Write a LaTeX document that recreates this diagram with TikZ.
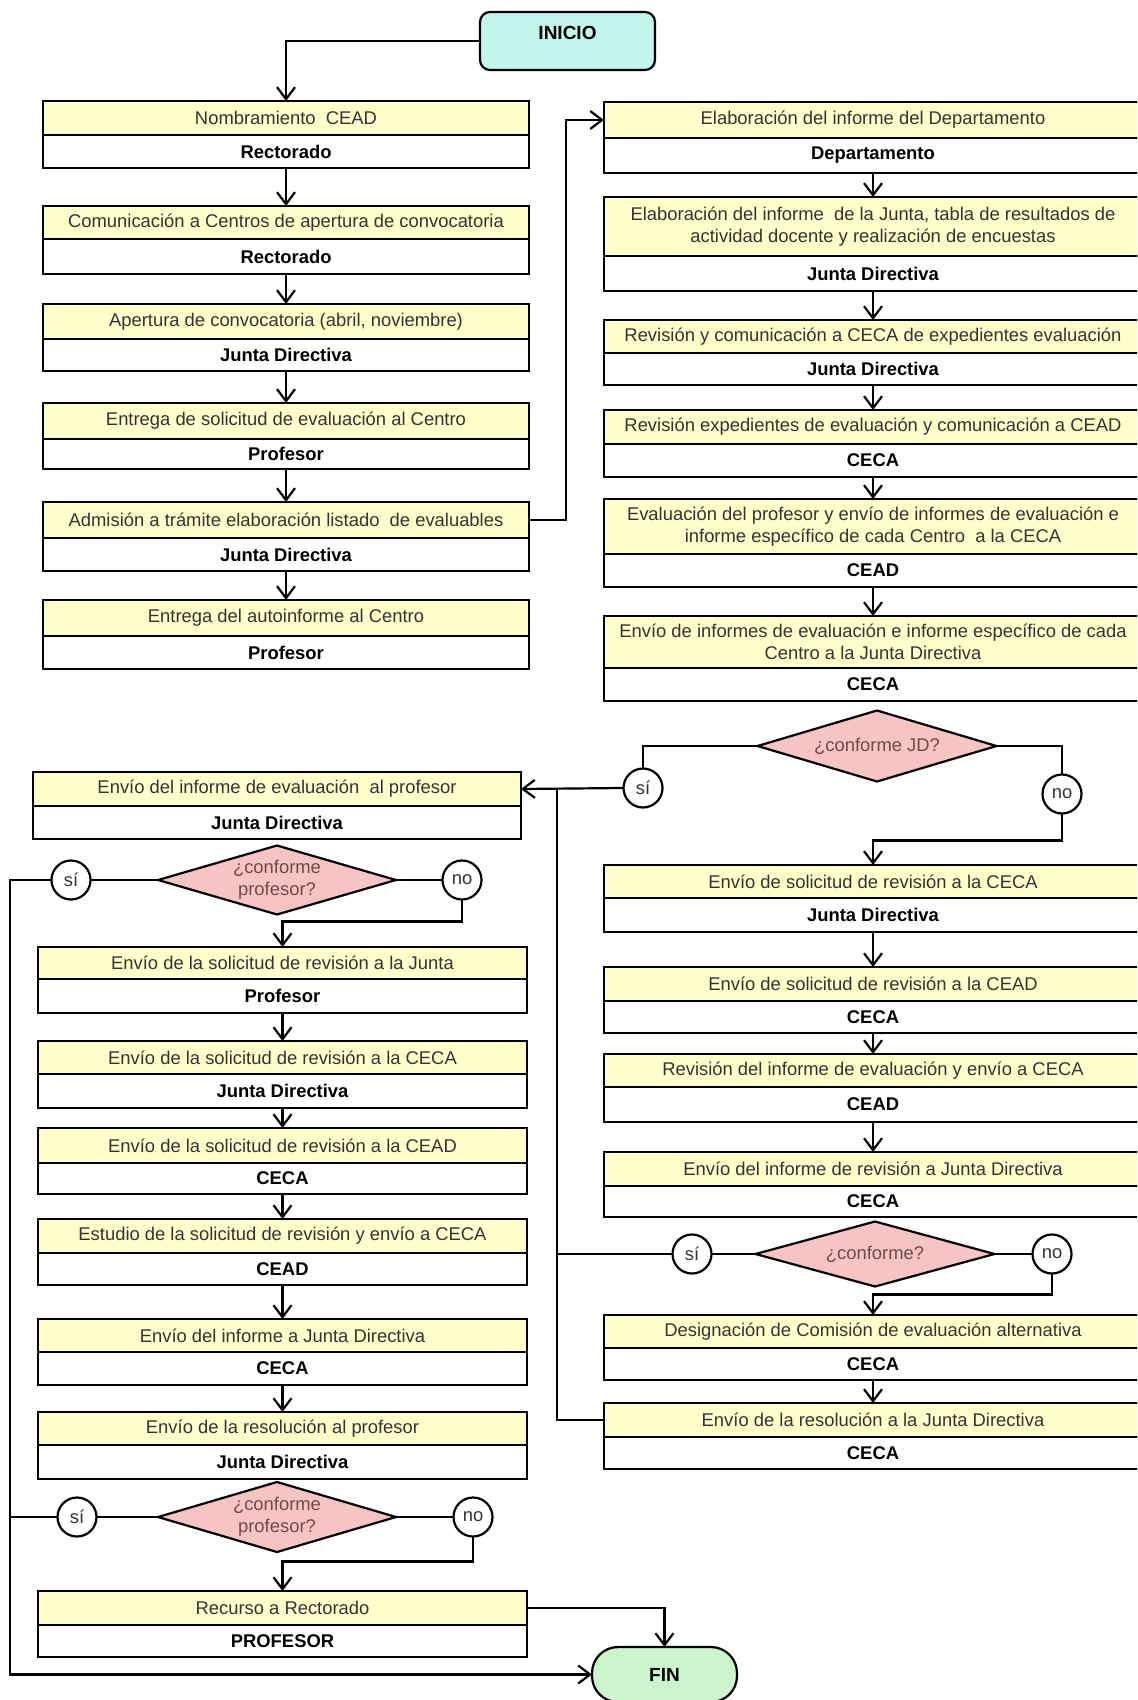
\documentclass[tikz,border=0pt]{standalone}
\usepackage{fontspec}
\setmainfont{Liberation Sans}
\usepackage{xcolor}
\usetikzlibrary{arrows.meta, shapes.geometric}

\definecolor{amarillo}{HTML}{FFFFCC}
\definecolor{turquesa}{HTML}{C4F5EC}
\definecolor{verdefin}{HTML}{CCF5CC}
\definecolor{rosa}{HTML}{F7C4C4}
\definecolor{gristexto}{HTML}{333333}
\definecolor{textorosa}{HTML}{6E4B4B}

% Caja de tarea: franja amarilla (tarea) + franja blanca (responsable)
% #1 nombre, #2 x izq, #3 x der, #4 y sup, #5 y division, #6 y inf
\newcommand{\caja}[8]{%
  \node[tarea, minimum width={(#3-#2)*0.5pt}, minimum height={(#5-#4)*0.5pt}]
    (#1-tarea) at ({(#2+#3)/2},{(#4+#5)/2}) {#7};
  \node[resp, minimum width={(#3-#2)*0.5pt}, minimum height={(#6-#5)*0.5pt}]
    (#1-resp) at ({(#2+#3)/2},{(#5+#6)/2}) {#8};
}

\begin{document}
\begin{tikzpicture}[x=0.5pt, y=-0.5pt, line width=1.1pt,
    >={Straight Barb[length=6pt, width=9pt]},
    every node/.style={font=\fontsize{9.2}{11}\selectfont},
    tarea/.style={draw, fill=amarillo, text=gristexto, align=center, inner sep=0pt, outer sep=0pt},
    resp/.style={draw, fill=white, font=\fontsize{9.2}{11}\selectfont\bfseries, inner sep=0pt, outer sep=0pt},
    decision/.style={diamond, draw, fill=rosa, text=textorosa, align=center, aspect=3.4, inner sep=0pt, outer sep=0pt},
    respuesta/.style={circle, draw, fill=white, text=gristexto, minimum size=19.5pt, inner sep=0pt, outer sep=0pt},
    terminal/.style={draw, font=\fontsize{9.5}{11}\selectfont\bfseries, inner sep=0pt, outer sep=0pt}]

    % =================================================================
    % 0. MARCO DE LA FIGURA
    % =================================================================
    \useasboundingbox (0,0) rectangle (1137,1700);
    \clip (0,0) rectangle (1137,1700);

    % =================================================================
    % 1. INICIO Y FIN
    % =================================================================
    \node[terminal, fill=turquesa, rounded corners=5pt, minimum width=87.5pt, minimum height=29pt, text depth=8pt] (inicio) at (567.5,41) {INICIO};
    \node[terminal, fill=verdefin, rounded corners=13pt, minimum width=72.5pt, minimum height=27.5pt] (fin) at (664.5,1674.5) {FIN};

    % =================================================================
    % 2. COLUMNA IZQUIERDA SUPERIOR
    % =================================================================
    \caja{b1}{43}{529}{101}{135}{168}{Nombramiento\ \ CEAD}{Rectorado}
    \caja{b2}{43}{529}{206}{239}{274}{Comunicación a Centros de apertura de convocatoria}{Rectorado}
    \caja{b3}{43}{529}{304}{339}{371}{Apertura de convocatoria (abril, noviembre)}{Junta Directiva}
    \caja{b4}{43}{529}{403}{439}{469}{Entrega de solicitud de evaluación al Centro}{Profesor}
    \caja{b5}{43}{529}{502}{538}{571}{Admisión a trámite elaboración listado\ \ de evaluables}{Junta Directiva}
    \caja{b6}{43}{529}{600}{636}{669}{Entrega del autoinforme al Centro}{Profesor}

    % =================================================================
    % 3. COLUMNA DERECHA
    % =================================================================
    \caja{r1}{604}{1142}{102}{138}{173}{Elaboración del informe del Departamento}{Departamento}
    \caja{r2}{604}{1142}{197}{256}{291}{Elaboración del informe\ \ de la Junta, tabla de resultados de\\actividad docente y realización de encuestas}{Junta Directiva}
    \caja{r3}{604}{1142}{320}{353}{385}{Revisión y comunicación a CECA de expedientes evaluación}{Junta Directiva}
    \caja{r4}{604}{1142}{410}{444}{477}{Revisión expedientes de evaluación y comunicación a CEAD}{CECA}
    \caja{r5}{604}{1142}{499}{554}{587}{Evaluación del profesor y envío de informes de evaluación e\\informe específico de cada Centro\ \ a la CECA}{CEAD}
    \caja{r6}{604}{1142}{616}{668}{701}{Envío de informes de evaluación e informe específico de cada\\Centro a la Junta Directiva}{CECA}

    \node[decision, minimum width=119.5pt, minimum height=35.5pt] (djd) at (877,746) {¿conforme JD?};
    \node[respuesta] (si-jd) at (643,788) {sí};
    \node[respuesta] (no-jd) at (1062,794) {no};

    \caja{r7}{604}{1142}{865}{898}{932}{Envío de solicitud de revisión a la CECA}{Junta Directiva}
    \caja{r8}{604}{1142}{967}{1001}{1033}{Envío de solicitud de revisión a la CEAD}{CECA}
    \caja{r9}{604}{1142}{1054}{1087}{1122}{Revisión del informe de evaluación y envío a CECA}{CEAD}
    \caja{r10}{604}{1142}{1152}{1186}{1217}{Envío del informe de revisión a Junta Directiva}{CECA}

    \node[decision, minimum width=119.5pt, minimum height=32.5pt] (dconf) at (875,1254) {¿conforme?};
    \node[respuesta] (si-conf) at (692,1254) {sí};
    \node[respuesta] (no-conf) at (1052,1254) {no};

    \caja{r11}{604}{1142}{1315}{1348}{1380}{Designación de Comisión de evaluación alternativa}{CECA}
    \caja{r12}{604}{1142}{1403}{1437}{1469}{Envío de la resolución a la Junta Directiva}{CECA}

    % =================================================================
    % 4. COLUMNA IZQUIERDA INFERIOR
    % =================================================================
    \caja{l1}{33}{521}{772}{806}{839}{Envío del informe de evaluación\ \ al profesor}{Junta Directiva}

    \node[decision, minimum width=119pt, minimum height=34.5pt] (dprof1) at (277,880) {¿conforme\\profesor?};
    \node[respuesta] (si-prof1) at (71,880) {sí};
    \node[respuesta] (no-prof1) at (462,880) {no};

    \caja{l2}{38}{527}{947}{979}{1013}{Envío de la solicitud de revisión a la Junta}{Profesor}
    \caja{l3}{38}{527}{1041}{1074}{1108}{Envío de la solicitud de revisión a la CECA}{Junta Directiva}
    \caja{l4}{38}{527}{1128}{1163}{1194}{Envío de la solicitud de revisión a la CEAD}{CECA}
    \caja{l5}{38}{527}{1219}{1253}{1285}{Estudio de la solicitud de revisión y envío a CECA}{CEAD}
    \caja{l6}{38}{527}{1319}{1352}{1385}{Envío del informe a Junta Directiva}{CECA}
    \caja{l7}{38}{527}{1412}{1445}{1479}{Envío de la resolución al profesor}{Junta Directiva}

    \node[decision, minimum width=119pt, minimum height=35pt] (dprof2) at (277,1517) {¿conforme\\profesor?};
    \node[respuesta] (si-prof2) at (77,1517) {sí};
    \node[respuesta] (no-prof2) at (473,1517) {no};

    \caja{l8}{38}{527}{1591}{1625}{1657}{Recurso a Rectorado}{PROFESOR}

    % Puntos de paso de las lineas de retorno
    \coordinate (bus) at (557,788);
    \coordinate (izq) at (10,880);

    % =================================================================
    % 5. CONECTORES
    % =================================================================
    \draw[->] (inicio.west) -| (b1-tarea.north);
    \draw[->] (b1-resp.south) -- (b2-tarea.north);
    \draw[->] (b2-resp.south) -- (b3-tarea.north);
    \draw[->] (b3-resp.south) -- (b4-tarea.north);
    \draw[->] (b4-resp.south) -- (b5-tarea.north);
    \draw[->] (b5-resp.south) -- (b6-tarea.north);
    \draw[->] (b5-tarea.east) -- ++(37,0) |- (r1-tarea.west);

    \draw[->] (r1-resp.south) -- (r2-tarea.north);
    \draw[->] (r2-resp.south) -- (r3-tarea.north);
    \draw[->] (r3-resp.south) -- (r4-tarea.north);
    \draw[->] (r4-resp.south) -- (r5-tarea.north);
    \draw[->] (r5-resp.south) -- (r6-tarea.north);

    \draw (djd.west) -| (si-jd.north);
    \draw[->] (si-jd.west) -- (l1-tarea.east);
    \draw (djd.east) -| (no-jd.north);
    \draw[->] (no-jd.south) -- ++(0,27) -| (r7-tarea.north);

    \draw[->] (r7-resp.south) -- (r8-tarea.north);
    \draw[->] (r8-resp.south) -- (r9-tarea.north);
    \draw[->] (r9-resp.south) -- (r10-tarea.north);

    \draw (dconf.west) -- (si-conf.east);
    \draw (si-conf.west) -- (si-conf.west -| bus);
    \draw (dconf.east) -- (no-conf.west);
    \draw[->] (no-conf.south) -- ++(0,21) -| (r11-tarea.north);
    \draw[->] (r11-resp.south) -- (r12-tarea.north);
    \draw (r12-tarea.west) -| (bus);

    \draw (dprof1.west) -- (si-prof1.east);
    \draw (dprof1.east) -- (no-prof1.west);
    \draw[->] (no-prof1.south) -- ++(0,22) -| (l2-tarea.north);
    \draw[->] (l2-resp.south) -- (l3-tarea.north);
    \draw[->] (l3-resp.south) -- (l4-tarea.north);
    \draw[->] (l4-resp.south) -- (l5-tarea.north);
    \draw[->] (l5-resp.south) -- (l6-tarea.north);
    \draw[->] (l6-resp.south) -- (l7-tarea.north);

    \draw (dprof2.west) -- (si-prof2.east);
    \draw (si-prof2.west) -- (si-prof2.west -| izq);
    \draw (dprof2.east) -- (no-prof2.west);
    \draw[->] (no-prof2.south) -- ++(0,25) -| (l8-tarea.north);

    \draw[->] (l8-tarea.east) -| (fin.north);
    \draw[->] (si-prof1.west) -- (izq) |- (fin.west);

\end{tikzpicture}
\end{document}
